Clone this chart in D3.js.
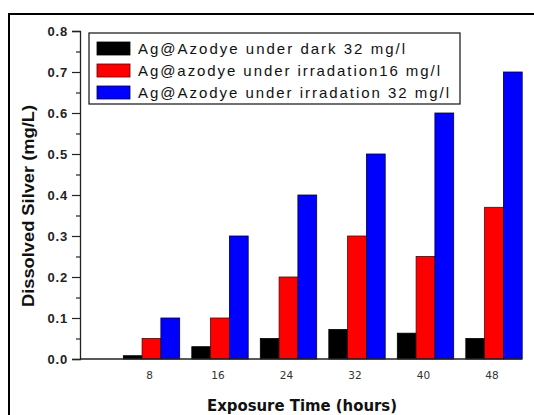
<!DOCTYPE html>
<html>
<head>
<meta charset="utf-8">
<script src="https://cdn.jsdelivr.net/npm/d3@7"></script>
<style>
  body { margin: 0; background: #fff; }
  svg { display: block; }
</style>
</head>
<body>
<script>
// data
var hours = ["8", "16", "24", "32", "40", "48"];
var seriesNames = [
  "Ag@Azodye under dark 32 mg/l",
  "Ag@azodye under irradation16 mg/l",
  "Ag@Azodye under irradation 32 mg/l"
];
var darkVals   = [0.008, 0.03, 0.05, 0.072, 0.063, 0.05];
var irr16Vals  = [0.05, 0.1, 0.2, 0.3, 0.25, 0.37];
var irr32Vals  = [0.1, 0.3, 0.4, 0.5, 0.6, 0.7];
var yTicks = [0.0, 0.1, 0.2, 0.3, 0.4, 0.5, 0.6, 0.7, 0.8];
var yMinor = [0.05, 0.15, 0.25, 0.35, 0.45, 0.55, 0.65, 0.75];

var colors = ["#000000", "#ff0000", "#0000ff"];
var allVals = [darkVals, irr16Vals, irr32Vals];

var W = 534, H = 415;
var axisX = 80, baseY = 359, topY = 31;

var svg = d3.select("body").append("svg")
  .attr("width", W)
  .attr("height", H);

// outer frame (only left + top visible in the crop)
svg.append("rect")
  .attr("x", 9).attr("y", 14)
  .attr("width", 560).attr("height", 420)
  .attr("fill", "none")
  .attr("stroke", "#000")
  .attr("stroke-width", 2);

var y = d3.scaleLinear().domain([0, 0.8]).range([baseY, topY]);

var x = d3.scaleBand()
  .domain(hours)
  .range([123.3, 522.2])
  .paddingInner(0.177)
  .paddingOuter(0);

var xs = d3.scaleBand()
  .domain(d3.range(3))
  .range([0, x.bandwidth()]);

// bars
var groups = svg.append("g").selectAll("g")
  .data(hours)
  .join("g")
  .attr("transform", function(d) { return "translate(" + x(d) + ",0)"; });

groups.selectAll("rect")
  .data(function(d, i) { return allVals.map(function(v, s) { return {s: s, v: v[i]}; }); })
  .join("rect")
  .attr("x", function(d) { return xs(d.s); })
  .attr("width", xs.bandwidth())
  .attr("y", function(d) { return y(d.v); })
  .attr("height", function(d) { return baseY - y(d.v); })
  .attr("fill", function(d) { return colors[d.s]; })
  .attr("stroke", function(d) { return d.s == 1 ? "#5a0000" : (d.s == 2 ? "#000040" : "#000"); })
  .attr("stroke-width", 0.8);

// y axis
var gy = svg.append("g")
  .attr("transform", "translate(" + axisX + ",0)")
  .call(d3.axisLeft(y).tickValues(yTicks).tickSize(8).tickPadding(4).tickFormat(d3.format(".1f")));
gy.select(".domain").attr("stroke", "#222").attr("stroke-width", 1.3);
gy.selectAll(".tick line").attr("stroke", "#222").attr("stroke-width", 1.2);
gy.selectAll("text")
  .attr("font-family", "Liberation Sans, Arial, sans-serif")
  .attr("font-weight", "bold")
  .attr("font-size", 13)
  .attr("letter-spacing", 0.8)
  .attr("fill", "#222");

var gyMinor = svg.append("g")
  .attr("transform", "translate(" + axisX + ",0)")
  .call(d3.axisLeft(y).tickValues(yMinor).tickSize(4).tickFormat(""));
gyMinor.select(".domain").remove();
gyMinor.selectAll(".tick line").attr("stroke", "#222").attr("stroke-width", 1.2);

// x axis (labels only, baseline drawn from the y axis)
var gx = svg.append("g")
  .attr("transform", "translate(0," + baseY + ")")
  .call(d3.axisBottom(x).tickSize(0).tickPadding(13));
gx.select(".domain").remove();
gx.selectAll("text")
  .attr("dx", -2)
  .attr("font-family", "DejaVu Sans, Verdana, sans-serif")
  .attr("font-size", 10.5)
  .attr("fill", "#333");

svg.append("line")
  .attr("x1", axisX).attr("x2", x.range()[1])
  .attr("y1", baseY).attr("y2", baseY)
  .attr("stroke", "#222")
  .attr("stroke-width", 1.3);

// axis titles
svg.append("text")
  .attr("x", 302).attr("y", 411)
  .attr("text-anchor", "middle")
  .attr("font-family", "DejaVu Sans Condensed, DejaVu Sans, sans-serif")
  .attr("font-weight", "bold")
  .attr("font-size", 16)
  .attr("textLength", 190)
  .attr("lengthAdjust", "spacingAndGlyphs")
  .attr("fill", "#111")
  .text("Exposure Time (hours)");

svg.append("text")
  .attr("transform", "translate(34,206) rotate(-90)")
  .attr("text-anchor", "middle")
  .attr("font-family", "Liberation Sans, Arial, sans-serif")
  .attr("font-weight", "bold")
  .attr("font-size", 16)
  .attr("textLength", 202)
  .attr("lengthAdjust", "spacingAndGlyphs")
  .attr("fill", "#111")
  .text("Dissolved Silver (mg/L)");

// legend
var legend = svg.append("g");
legend.append("rect")
  .attr("x", 89).attr("y", 33)
  .attr("width", 371).attr("height", 71)
  .attr("fill", "#fff")
  .attr("stroke", "#111")
  .attr("stroke-width", 1.2);

var legendEnds = [405, 440, 449];
var rows = legend.selectAll("g.row")
  .data(seriesNames)
  .join("g")
  .attr("class", "row")
  .attr("transform", function(d, i) { return "translate(0," + (i * 22) + ")"; });

rows.append("rect")
  .attr("x", 97).attr("y", 42)
  .attr("width", 33).attr("height", 13)
  .attr("fill", function(d, i) { return colors[i]; })
  .attr("stroke", function(d, i) { return i == 1 ? "#5a0000" : (i == 2 ? "#000040" : "#000"); })
  .attr("stroke-width", 0.8);

rows.append("text")
  .attr("x", 138).attr("y", 54)
  .attr("font-family", "Liberation Sans, Arial, sans-serif")
  .attr("font-size", 15)
  .attr("textLength", function(d, i) { return legendEnds[i] - 138; })
  .attr("lengthAdjust", "spacing")
  .attr("fill", "#111")
  .text(function(d) { return d; });
</script>
</body>
</html>
